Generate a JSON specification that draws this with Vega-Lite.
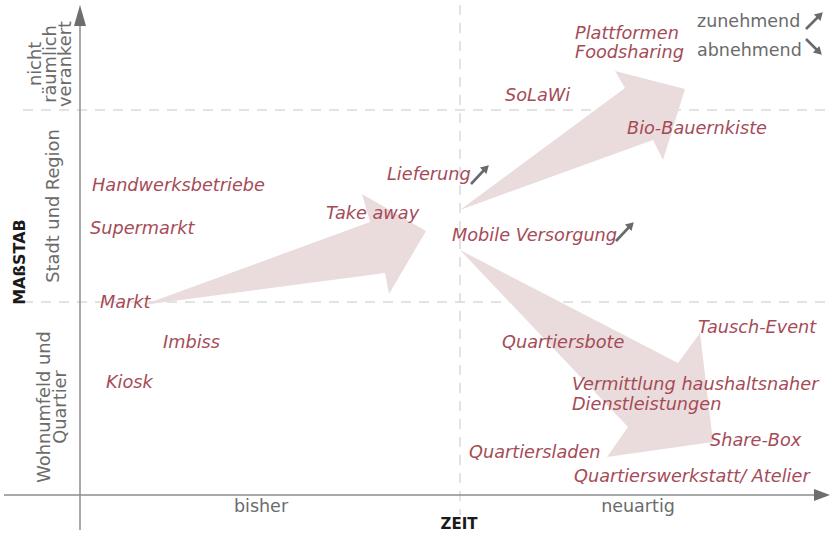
{
  "$schema": "https://vega.github.io/schema/vega-lite/v6.json",
  "width": 830,
  "height": 536,
  "autosize": {"type": "none"},
  "padding": 0,
  "background": "white",
  "config": {"view": {"stroke": null}},
  "datasets": {
    "guides": [
      {"x": 380, "y": 490, "x2": 380, "y2": -20},
      {"x": -57, "y": 385, "x2": 750, "y2": 385},
      {"x": -57, "y": 193, "x2": 750, "y2": 193}
    ],
    "arrows": [
      {"id": "pfeil1", "k": 1, "x": 63, "y": 190},
      {"id": "pfeil1", "k": 2, "x": 290, "y": 273},
      {"id": "pfeil1", "k": 3, "x": 282, "y": 301},
      {"id": "pfeil1", "k": 4, "x": 346, "y": 264},
      {"id": "pfeil1", "k": 5, "x": 309, "y": 201},
      {"id": "pfeil1", "k": 6, "x": 305, "y": 222},
      {"id": "pfeil2", "k": 1, "x": 380, "y": 285},
      {"id": "pfeil2", "k": 2, "x": 545, "y": 407},
      {"id": "pfeil2", "k": 3, "x": 535, "y": 424},
      {"id": "pfeil2", "k": 4, "x": 605, "y": 406},
      {"id": "pfeil2", "k": 5, "x": 583, "y": 335},
      {"id": "pfeil2", "k": 6, "x": 573, "y": 355},
      {"id": "pfeil3", "k": 1, "x": 380, "y": 245},
      {"id": "pfeil3", "k": 2, "x": 598, "y": 132},
      {"id": "pfeil3", "k": 3, "x": 620, "y": 162},
      {"id": "pfeil3", "k": 4, "x": 633, "y": 53},
      {"id": "pfeil3", "k": 5, "x": 527, "y": 38},
      {"id": "pfeil3", "k": 6, "x": 548, "y": 68}
    ],
    "axisHeads": [
      {"id": "zeit", "k": 1, "x": 750, "y": 0},
      {"id": "zeit", "k": 2, "x": 734, "y": 6},
      {"id": "zeit", "k": 3, "x": 734, "y": -6},
      {"id": "massstab", "k": 1, "x": 0, "y": 490},
      {"id": "massstab", "k": 2, "x": 6, "y": 469},
      {"id": "massstab", "k": 3, "x": -6, "y": 469}
    ],
    "axes": [
      {"x": 0, "y": -35, "x2": 0, "y2": 472},
      {"x": -76, "y": 0, "x2": 737, "y2": 0}
    ],
    "trends": [
      {"item": "Lieferung", "trend": "zunehmend", "x": 391, "y": 311, "x2": 406, "y2": 327},
      {"item": "Mobile Versorgung", "trend": "zunehmend", "x": 536, "y": 254, "x2": 551, "y2": 270},
      {"item": "Legende", "trend": "zunehmend", "x": 726, "y": 466, "x2": 740, "y2": 480},
      {"item": "Legende", "trend": "abnehmend", "x": 726, "y": 456, "x2": 739, "y2": 443}
    ],
    "labels": [
      {"text": "Plattformen", "x": 495, "y": 461},
      {"text": "Foodsharing", "x": 495, "y": 442},
      {"text": "SoLaWi", "x": 425, "y": 399},
      {"text": "Bio-Bauernkiste", "x": 547, "y": 366},
      {"text": "Lieferung", "x": 307, "y": 320},
      {"text": "Handwerksbetriebe", "x": 12, "y": 309},
      {"text": "Take away", "x": 246, "y": 281},
      {"text": "Supermarkt", "x": 10, "y": 266},
      {"text": "Mobile Versorgung", "x": 372, "y": 259},
      {"text": "Markt", "x": 20, "y": 192},
      {"text": "Tausch-Event", "x": 618, "y": 167},
      {"text": "Imbiss", "x": 83, "y": 152},
      {"text": "Quartiersbote", "x": 422, "y": 152},
      {"text": "Kiosk", "x": 26, "y": 112},
      {"text": "Vermittlung haushaltsnaher", "x": 492, "y": 110},
      {"text": "Dienstleistungen", "x": 492, "y": 90},
      {"text": "Share-Box", "x": 630, "y": 54},
      {"text": "Quartiersladen", "x": 389, "y": 42},
      {"text": "Quartierswerkstatt/ Atelier", "x": 494, "y": 18}
    ],
    "legendText": [
      {"text": "zunehmend", "x": 617, "y": 473},
      {"text": "abnehmend", "x": 617, "y": 444}
    ],
    "xTicks": [
      {"text": "bisher", "x": 181, "y": -12},
      {"text": "neuartig", "x": 558, "y": -12}
    ],
    "yTicks": [
      {"text": "nicht", "x": -44, "y": 431},
      {"text": "räumlich", "x": -29, "y": 431},
      {"text": "verankert", "x": -14, "y": 431},
      {"text": "Stadt und Region", "x": -26, "y": 289},
      {"text": "Wohnumfeld und", "x": -35, "y": 88},
      {"text": "Quartier", "x": -19, "y": 88}
    ],
    "titles": [
      {"text": "ZEIT", "x": 379, "y": -29, "axis": "x"},
      {"text": "MAßSTAB", "x": -60, "y": 233, "axis": "y"}
    ]
  },
  "encoding": {
    "x": {"field": "x", "type": "quantitative", "scale": {"domain": [-80, 750], "nice": false, "zero": false}, "axis": null},
    "y": {"field": "y", "type": "quantitative", "scale": {"domain": [-41, 495], "nice": false, "zero": false}, "axis": null}
  },
  "layer": [
    {
      "data": {"name": "guides"},
      "mark": {"type": "rule", "stroke": "#dadada", "strokeWidth": 1.5, "strokeDash": [10, 8]},
      "encoding": {"x2": {"field": "x2"}, "y2": {"field": "y2"}}
    },
    {
      "data": {"name": "arrows"},
      "mark": {"type": "line", "interpolate": "linear-closed", "fill": "#eadcdc", "stroke": null, "strokeWidth": 0},
      "encoding": {"detail": {"field": "id"}, "order": {"field": "k", "type": "quantitative"}}
    },
    {
      "data": {"name": "axes"},
      "mark": {"type": "rule", "stroke": "#8c8c8c", "strokeWidth": 1.5},
      "encoding": {"x2": {"field": "x2"}, "y2": {"field": "y2"}}
    },
    {
      "data": {"name": "axisHeads"},
      "mark": {"type": "line", "interpolate": "linear-closed", "fill": "#6e6e6e", "stroke": null, "strokeWidth": 0},
      "encoding": {"detail": {"field": "id"}, "order": {"field": "k", "type": "quantitative"}}
    },
    {
      "data": {"name": "trends"},
      "mark": {"type": "rule", "stroke": "#6a6a6a", "strokeWidth": 2.6},
      "encoding": {"x2": {"field": "x2"}, "y2": {"field": "y2"}}
    },
    {
      "data": {"name": "trends"},
      "transform": [{"filter": "datum.trend === 'zunehmend'"}],
      "mark": {"type": "point", "shape": "triangle-up", "filled": true, "color": "#6a6a6a", "size": 85, "angle": 45, "opacity": 1},
      "encoding": {"x": {"field": "x2", "type": "quantitative"}, "y": {"field": "y2", "type": "quantitative"}}
    },
    {
      "data": {"name": "trends"},
      "transform": [{"filter": "datum.trend === 'abnehmend'"}],
      "mark": {"type": "point", "shape": "triangle-up", "filled": true, "color": "#6a6a6a", "size": 85, "angle": 135, "opacity": 1},
      "encoding": {"x": {"field": "x2", "type": "quantitative"}, "y": {"field": "y2", "type": "quantitative"}}
    },
    {
      "data": {"name": "labels"},
      "mark": {"type": "text", "align": "left", "baseline": "middle", "font": "DejaVu Sans", "fontSize": 17.7, "fontStyle": "oblique", "color": "#a54b57"},
      "encoding": {"text": {"field": "text"}}
    },
    {
      "data": {"name": "legendText"},
      "mark": {"type": "text", "align": "left", "baseline": "middle", "font": "DejaVu Sans", "fontSize": 17.5, "color": "#6b6b6b"},
      "encoding": {"text": {"field": "text"}}
    },
    {
      "data": {"name": "xTicks"},
      "mark": {"type": "text", "align": "center", "baseline": "middle", "font": "DejaVu Sans", "fontSize": 17.5, "color": "#6b6b6b"},
      "encoding": {"text": {"field": "text"}}
    },
    {
      "data": {"name": "yTicks"},
      "mark": {"type": "text", "align": "center", "baseline": "middle", "angle": 270, "font": "DejaVu Sans", "fontSize": 17.8, "color": "#6b6b6b"},
      "encoding": {"text": {"field": "text"}}
    },
    {
      "data": {"name": "titles"},
      "transform": [{"filter": "datum.axis === 'x'"}],
      "mark": {"type": "text", "align": "center", "baseline": "middle", "font": "DejaVu Sans", "fontSize": 15, "fontWeight": "bold", "color": "#1a1a1a"},
      "encoding": {"text": {"field": "text"}}
    },
    {
      "data": {"name": "titles"},
      "transform": [{"filter": "datum.axis === 'y'"}],
      "mark": {"type": "text", "align": "center", "baseline": "middle", "angle": 270, "font": "DejaVu Sans", "fontSize": 16, "fontWeight": "bold", "color": "#1a1a1a"},
      "encoding": {"text": {"field": "text"}}
    }
  ]
}
